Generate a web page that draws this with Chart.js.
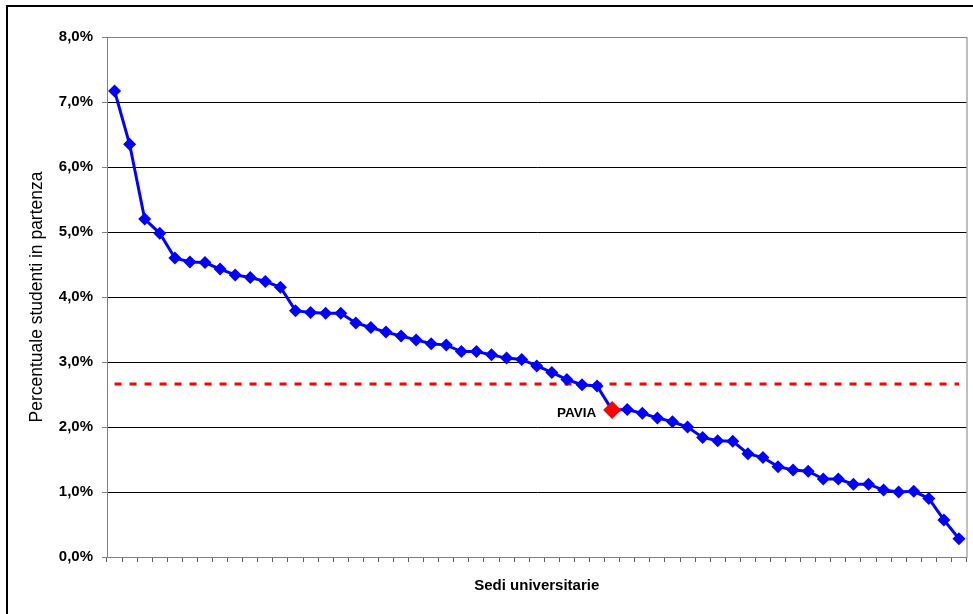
<!DOCTYPE html>
<html lang="it">
<head>
<meta charset="utf-8">
<title>Percentuale studenti in partenza</title>
<script src="https://cdn.jsdelivr.net/npm/chart.js@4.4.1/dist/chart.umd.min.js"></script>
<style>
  html, body { margin: 0; padding: 0; background: #fff; overflow: hidden; }
  #wrap { position: relative; width: 973px; height: 614px; }
  #frame {
    position: absolute; left: 6px; top: 5px; width: 990px; height: 640px;
    border: 2px solid #000; pointer-events: none;
  }
</style>
</head>
<body>
<div id="wrap">
  <canvas id="sediChart" width="973" height="614"></canvas>
  <div id="frame"></div>
</div>
<script>
// sedi ordinate per percentuale di studenti in partenza
const sedi = [
  '1', '2', '3', '4', '5', '6', '7', '8', '9', '10',
  '11', '12', '13', '14', '15', '16', '17', '18', '19', '20',
  '21', '22', '23', '24', '25', '26', '27', '28', '29', '30',
  '31', '32', '33', 'PAVIA', '35', '36', '37', '38', '39', '40',
  '41', '42', '43', '44', '45', '46', '47', '48', '49', '50',
  '51', '52', '53', '54', '55', '56', '57'
];

const percentuali = [
  7.17, 6.35, 5.20, 4.98, 4.60, 4.54, 4.53, 4.43, 4.34, 4.30,
  4.24, 4.15, 3.79, 3.76, 3.75, 3.75, 3.60, 3.53, 3.46, 3.40,
  3.34, 3.28, 3.26, 3.16, 3.16, 3.11, 3.06, 3.04, 2.94, 2.84,
  2.73, 2.65, 2.63, 2.26, 2.27, 2.21, 2.14, 2.08, 2.00, 1.84,
  1.79, 1.78, 1.59, 1.53, 1.39, 1.34, 1.32, 1.20, 1.20, 1.12,
  1.12, 1.03, 1.00, 1.01, 0.90, 0.57, 0.28
];

const media = 2.66;
const evidenziata = 'PAVIA';
const yTicks = [0, 1, 2, 3, 4, 5, 6, 7, 8];

const FONT = '"Liberation Sans", Arial, sans-serif';
const idxPavia = sedi.indexOf(evidenziata);

// bordo grigio dell'area del grafico + etichetta PAVIA
const extras = {
  id: 'extras',
  beforeDatasetsDraw(chart) {
    const { ctx, chartArea: a } = chart;
    ctx.save();
    ctx.strokeStyle = '#808080';
    ctx.lineWidth = 1;
    ctx.strokeRect(a.left + 0.5, a.top + 0.5, a.right - a.left, a.bottom - a.top);
    ctx.restore();
  },
  afterDatasetsDraw(chart) {
    const pt = chart.getDatasetMeta(0).data[idxPavia];
    if (!pt) return;
    const ctx = chart.ctx;
    ctx.save();
    ctx.font = 'bold 13.5px ' + FONT;
    ctx.fillStyle = '#000';
    ctx.textAlign = 'right';
    ctx.textBaseline = 'alphabetic';
    ctx.fillText(evidenziata, pt.x - 16, pt.y + 7);
    ctx.restore();
  }
};

const ctx = document.getElementById('sediChart').getContext('2d');

new Chart(ctx, {
  type: 'line',
  data: {
    labels: sedi,
    datasets: [
      {
        label: 'Sedi',
        data: percentuali,
        borderColor: '#0000FF',
        borderWidth: 3,
        tension: 0,
        pointStyle: 'rectRot',
        pointRadius: c => c.dataIndex === idxPavia ? 9 : 6.5,
        pointBackgroundColor: c => c.dataIndex === idxPavia ? '#FF0000' : '#0000FF',
        pointBorderColor: c => c.dataIndex === idxPavia ? '#FF0000' : '#0000FF',
        pointBorderWidth: 0
      },
      {
        label: 'Media',
        data: [
          { x: sedi[0], y: media },
          { x: sedi[sedi.length - 1], y: media }
        ],
        borderColor: '#FF0000',
        borderWidth: 3,
        borderDash: [7, 8],
        pointRadius: 0
      }
    ]
  },
  options: {
    responsive: false,
    animation: false,
    layout: { padding: { top: 37, right: 5, bottom: 0, left: 0 } },
    plugins: {
      legend: { display: false },
      tooltip: { enabled: false }
    },
    scales: {
      x: {
        type: 'category',
        offset: true,
        afterFit: s => { s.height = 57; },
        grid: {
          offset: true,
          drawOnChartArea: false,
          tickLength: 5,
          color: '#606060'
        },
        border: { color: '#808080', width: 1 },
        ticks: { display: false },
        title: {
          display: true,
          text: 'Sedi universitarie',
          color: '#000',
          font: { family: FONT, size: 15, weight: 'bold' },
          padding: { top: 0, bottom: 19 }
        }
      },
      y: {
        min: 0,
        max: 8,
        afterFit: s => { s.width = 107; },
        afterBuildTicks: s => { s.ticks = yTicks.map(v => ({ value: v })); },
        grid: {
          color: c => (c.tick && (c.tick.value === 0 || c.tick.value === 8)) ? 'rgba(0,0,0,0)' : '#000',
          tickColor: '#808080',
          tickLength: 5,
          lineWidth: 1
        },
        border: { color: '#808080', width: 1 },
        ticks: {
          color: '#000',
          padding: 9,
          font: { family: FONT, size: 15, weight: 'bold' },
          callback: v => v.toFixed(1).replace('.', ',') + '%'
        },
        title: {
          display: true,
          text: 'Percentuale studenti in partenza',
          color: '#000',
          font: { family: FONT, size: 17.5 },
          padding: { top: 27, bottom: 0 }
        }
      }
    }
  },
  plugins: [extras]
});
</script>
</body>
</html>
